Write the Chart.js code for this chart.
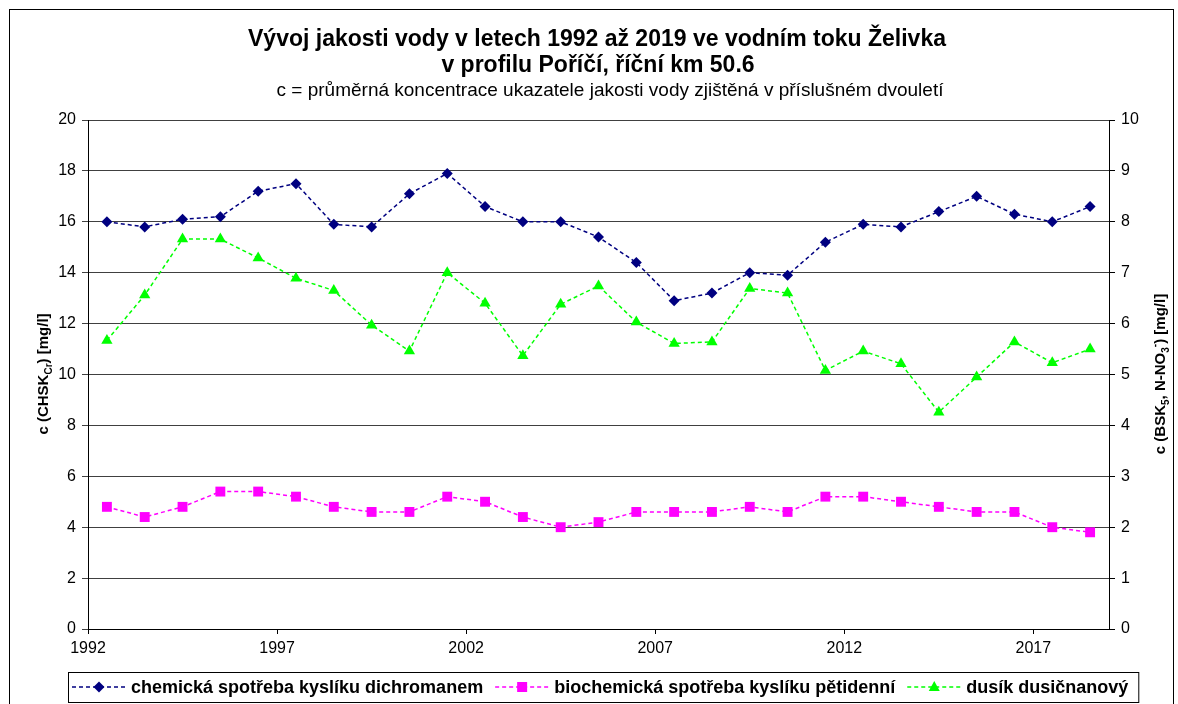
<!DOCTYPE html>
<html><head><meta charset="utf-8">
<script src="https://cdn.jsdelivr.net/npm/chart.js@4.4.1/dist/chart.umd.min.js"></script>
<style>html,body{margin:0;padding:0;background:#fff}#wrap{width:1178px;height:704px;position:relative}</style>
</head><body><div id="wrap"><canvas id="c" width="1178" height="704"></canvas></div>
<script>
const titleLines = ['Vývoj jakosti vody v letech 1992 až 2019 ve vodním toku Želivka', 'v profilu Poříčí, říční km 50.6'];
const subtitleText = 'c = průměrná koncentrace ukazatele jakosti vody zjištěná v příslušném dvouletí';
const seriesLabels = ['chemická spotřeba kyslíku dichromanem', 'biochemická spotřeba kyslíku pětidenní', 'dusík dusičnanový'];
const years = [1992.5, 1993.5, 1994.5, 1995.5, 1996.5, 1997.5, 1998.5, 1999.5, 2000.5, 2001.5, 2002.5, 2003.5, 2004.5, 2005.5, 2006.5, 2007.5, 2008.5, 2009.5, 2010.5, 2011.5, 2012.5, 2013.5, 2014.5, 2015.5, 2016.5, 2017.5, 2018.5];
const chskValues = [16.0, 15.8, 16.1, 16.2, 17.2, 17.5, 15.9, 15.8, 17.1, 17.9, 16.6, 16.0, 16.0, 15.4, 14.4, 12.9, 13.2, 14.0, 13.9, 15.2, 15.9, 15.8, 16.4, 17.0, 16.3, 16.0, 16.6];
const bskValues = [2.4, 2.2, 2.4, 2.7, 2.7, 2.6, 2.4, 2.3, 2.3, 2.6, 2.5, 2.2, 2.0, 2.1, 2.3, 2.3, 2.3, 2.4, 2.3, 2.6, 2.6, 2.5, 2.4, 2.3, 2.3, 2.0, 1.9];
const no3Values = [5.67, 6.56, 7.66, 7.66, 7.29, 6.89, 6.65, 5.97, 5.46, 7.0, 6.4, 5.37, 6.38, 6.74, 6.03, 5.61, 5.64, 6.69, 6.6, 5.08, 5.46, 5.21, 4.26, 4.95, 5.64, 5.23, 5.5];
const xTickValues = [1992, 1997, 2002, 2007, 2012, 2017];
const colors = ['#000080', '#FF00FF', '#00FF00'];
const FONT = '"Liberation Sans", Arial, sans-serif';

function pts(vals) { return vals.map((v, i) => ({ x: years[i], y: v })); }

function drawMarker(ctx, style, x, y, color) {
  ctx.save();
  ctx.fillStyle = color;
  ctx.beginPath();
  if (style === 'rectRot') {
    ctx.moveTo(x, y - 5.5); ctx.lineTo(x + 5.5, y); ctx.lineTo(x, y + 5.5); ctx.lineTo(x - 5.5, y);
  } else if (style === 'rect') {
    ctx.rect(x - 5, y - 5, 10, 10);
  } else {
    ctx.moveTo(x, y - 6); ctx.lineTo(x + 5.5, y + 4); ctx.lineTo(x - 5.5, y + 4);
  }
  ctx.closePath();
  ctx.fill();
  ctx.restore();
}

function richText(ctx, parts, cx, cy, rot) {
  ctx.save();
  ctx.translate(cx, cy);
  ctx.rotate(rot);
  ctx.fillStyle = '#000';
  ctx.textBaseline = 'alphabetic';
  let total = 0;
  parts.forEach(p => { ctx.font = 'bold ' + p.size + 'px ' + FONT; p.w = ctx.measureText(p.t).width; total += p.w; });
  let x = -total / 2;
  parts.forEach(p => { ctx.font = 'bold ' + p.size + 'px ' + FONT; ctx.fillText(p.t, x, 5 + (p.dy || 0)); x += p.w; });
  ctx.restore();
}

const decor = {
  id: 'decor',
  afterDraw(chart) {
    const ctx = chart.ctx;
    ctx.save();
    // frame
    ctx.strokeStyle = '#000';
    ctx.lineWidth = 1;
    ctx.strokeRect(9.5, 9.5, 1164, 720);
    // titles
    ctx.fillStyle = '#000';
    ctx.textAlign = 'center';
    ctx.textBaseline = 'alphabetic';
    ctx.font = 'bold 23px ' + FONT;
    ctx.fillText(titleLines[0], 597, 46);
    ctx.fillText(titleLines[1], 598, 72);
    ctx.font = '19px ' + FONT;
    ctx.fillText(subtitleText, 610, 96);
    ctx.restore();

    // axis titles
    richText(ctx, [{ t: 'c (CHSK', size: 15 }, { t: 'Cr', size: 10, dy: 4 }, { t: ') [mg/l]', size: 15 }], 43, 374, -Math.PI / 2);
    richText(ctx, [{ t: 'c (BSK', size: 15 }, { t: '5', size: 10, dy: 4 }, { t: ', N-NO', size: 15 }, { t: '3', size: 10, dy: 4 }, { t: '-', size: 10, dy: -7 }, { t: ') [mg/l]', size: 15 }], 1160, 374, -Math.PI / 2);

    // legend
    ctx.save();
    const ly = 687;
    let x = 72;
    ctx.font = 'bold 18px ' + FONT;
    ctx.textBaseline = 'middle';
    ctx.textAlign = 'left';
    chart.data.datasets.forEach((ds, i) => {
      ctx.save();
      ctx.strokeStyle = ds.borderColor;
      ctx.lineWidth = 1.5;
      ctx.setLineDash([4, 3]);
      ctx.beginPath(); ctx.moveTo(x, ly); ctx.lineTo(x + 54, ly); ctx.stroke();
      ctx.restore();
      drawMarker(ctx, ds.pointStyle, x + 27, ly, ds.borderColor);
      ctx.fillStyle = '#000';
      ctx.fillText(ds.label, x + 59, ly + 1);
      x = x + 59 + ctx.measureText(ds.label).width + 12;
    });
    ctx.strokeStyle = '#000';
    ctx.lineWidth = 1;
    ctx.strokeRect(68.5, 672.5, x - 12 + 10 - 68, 30);
    ctx.restore();
  }
};

new Chart(document.getElementById('c'), {
  type: 'line',
  data: {
    datasets: [
      { label: seriesLabels[0], data: pts(chskValues), yAxisID: 'y', borderColor: colors[0], backgroundColor: colors[0], pointStyle: 'rectRot', pointRadius: 5.5, pointBorderWidth: 0, borderWidth: 1.5, borderDash: [4, 3] },
      { label: seriesLabels[1], data: pts(bskValues), yAxisID: 'y2', borderColor: colors[1], backgroundColor: colors[1], pointStyle: 'rect', pointRadius: 7, pointBorderWidth: 0, borderWidth: 1.5, borderDash: [4, 3] },
      { label: seriesLabels[2], data: pts(no3Values), yAxisID: 'y2', borderColor: colors[2], backgroundColor: colors[2], pointStyle: 'triangle', pointRadius: 6.5, pointBorderWidth: 0, borderWidth: 1.5, borderDash: [4, 3] }
    ]
  },
  options: {
    responsive: false,
    animation: false,
    layout: { padding: { top: 120, bottom: 32, left: 0, right: 0 } },
    plugins: { legend: { display: false }, title: { display: false }, tooltip: { enabled: false } },
    scales: {
      x: {
        type: 'linear', min: 1992, max: 2019, position: 'bottom',
        afterBuildTicks: s => { s.ticks = xTickValues.map(v => ({ value: v })); },
        afterFit: s => { s.height = 43; },
        ticks: { color: '#000', font: { size: 16, family: FONT }, padding: 5, maxRotation: 0, autoSkip: false, callback: v => String(v) },
        grid: { drawOnChartArea: false, drawTicks: true, tickLength: 5, color: '#000' },
        border: { color: '#000', width: 1 }
      },
      y: {
        position: 'left', min: 0, max: 20,
        afterFit: s => { s.width = 88; },
        ticks: { stepSize: 2, color: '#000', font: { size: 16, family: FONT }, padding: 6 },
        grid: { color: '#404040', lineWidth: 1, tickLength: 6 },
        border: { color: '#000', width: 1 }
      },
      y2: {
        position: 'right', min: 0, max: 10,
        afterFit: s => { s.width = 69; },
        ticks: { stepSize: 1, color: '#000', font: { size: 16, family: FONT }, padding: 6 },
        grid: { drawOnChartArea: false, color: '#000', tickLength: 6 },
        border: { color: '#000', width: 1 }
      }
    }
  },
  plugins: [decor]
});
</script></body></html>
